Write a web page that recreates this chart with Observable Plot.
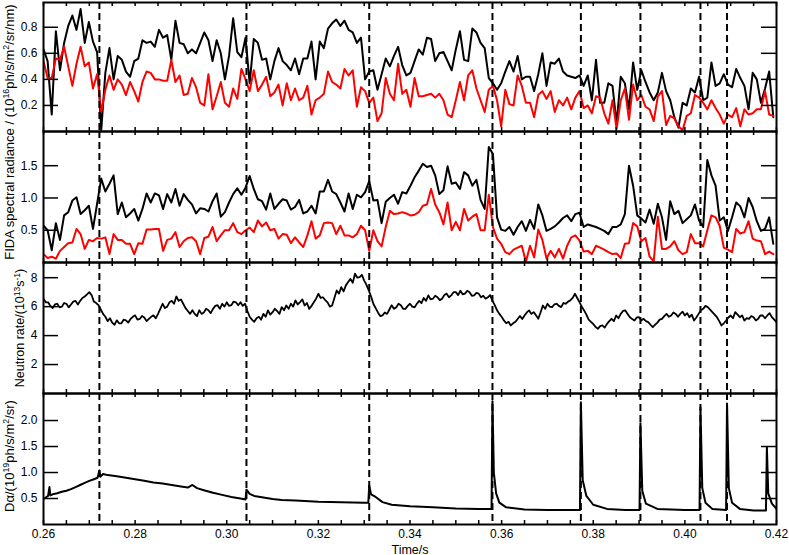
<!DOCTYPE html>
<html><head><meta charset="utf-8">
<script src="https://cdn.jsdelivr.net/npm/d3@7"></script>
<script src="https://cdn.jsdelivr.net/npm/@observablehq/plot@0.6"></script>
<style>
body{margin:0;background:#fff;font-family:"Liberation Sans",Arial,Helvetica,sans-serif;}
#wrap{position:relative;width:789px;height:555px;overflow:hidden;}
#wrap svg{display:block;}
.lab{position:absolute;white-space:nowrap;color:#000;line-height:1;}
.rot{transform:translate(-50%,-50%) rotate(-90deg);}
.hor{transform:translate(-50%,-50%);}
.lab sup{font-size:68%;vertical-align:0.5em;line-height:0;}
</style></head><body>
<div id="wrap"></div>
<script>
// ---------- data ----------
const xTicks = [0.26, 0.28, 0.30, 0.32, 0.34, 0.36, 0.38, 0.40, 0.42];
const eventTimes = [0.2722, 0.3043, 0.3311, 0.3580, 0.3773, 0.3903, 0.4034, 0.4092];

// FIDA sampled every 0.0009 s from 0.26 s
const fidaStart = 0.26, fidaStep = 0.0009;
const fidaTopBlack = [
0.63,0.54,0.13,0.77,0.47,0.68,0.81,0.89,0.78,0.94,
0.68,0.84,0.69,0.61,0.01,0.45,0.64,0.40,0.58,0.55,
0.46,0.42,0.54,0.56,0.70,0.68,0.69,0.65,0.78,0.72,
0.74,0.55,0.85,0.68,0.67,0.60,0.63,0.60,0.68,0.76,
0.70,0.54,0.70,0.60,0.40,0.58,0.87,0.61,0.57,0.72,
0.37,0.71,0.68,0.55,0.56,0.40,0.54,0.64,0.54,0.51,
0.47,0.56,0.44,0.56,0.56,0.69,0.40,0.69,0.64,0.79,
0.83,0.86,0.81,0.85,0.78,0.76,0.68,0.72,0.40,0.46,
0.47,0.32,0.44,0.56,0.50,0.58,0.65,0.51,0.43,0.45,
0.54,0.63,0.59,0.72,0.71,0.54,0.60,0.61,0.54,0.47,
0.63,0.77,0.55,0.54,0.79,0.76,0.68,0.64,0.41,0.37,
0.32,0.37,0.46,0.54,0.46,0.58,0.40,0.42,0.42,0.31,
0.44,0.60,0.35,0.53,0.52,0.56,0.46,0.43,0.42,0.41,
0.43,0.35,0.43,0.24,0.55,0.22,0.22,0.37,0.35,0.06,
0.42,0.37,0.17,0.53,0.32,0.47,0.38,0.30,0.24,0.30,
0.45,0.31,0.24,0.11,0.03,0.22,0.20,0.33,0.30,0.42,
0.24,0.26,0.53,0.35,0.37,0.44,0.36,0.34,0.48,0.41,
0.35,0.17,0.45,0.40,0.22,0.33,0.46,0.11];
const fidaTopRed = [
0.54,0.41,0.41,0.56,0.55,0.65,0.50,0.35,0.52,0.65,
0.50,0.53,0.33,0.44,0.15,0.32,0.43,0.32,0.40,0.36,
0.28,0.38,0.31,0.23,0.38,0.46,0.45,0.40,0.40,0.39,
0.39,0.55,0.38,0.43,0.28,0.29,0.41,0.34,0.22,0.20,
0.44,0.17,0.27,0.38,0.22,0.19,0.33,0.25,0.48,0.40,
0.31,0.47,0.31,0.36,0.42,0.27,0.30,0.36,0.20,0.37,
0.24,0.33,0.24,0.26,0.35,0.13,0.24,0.26,0.29,0.46,
0.38,0.36,0.33,0.48,0.43,0.47,0.19,0.34,0.31,0.22,
0.26,0.08,0.14,0.41,0.29,0.24,0.52,0.29,0.32,0.19,
0.41,0.27,0.27,0.28,0.29,0.26,0.29,0.24,0.13,0.11,
0.24,0.38,0.24,0.43,0.47,0.33,0.24,0.15,0.32,0.35,
0.24,0.04,0.32,0.21,0.20,0.43,0.35,0.22,0.22,0.11,
0.28,0.31,0.25,0.31,0.15,0.24,0.20,0.26,0.17,0.26,
0.31,0.18,0.20,0.14,0.27,0.26,0.14,0.06,0.24,0.02,
0.24,0.33,0.09,0.36,0.24,0.28,0.19,0.17,0.08,0.27,
0.31,0.05,0.12,0.10,0.04,0.01,0.12,0.14,0.28,0.26,
0.22,0.17,0.24,0.18,0.13,0.06,0.13,0.11,0.18,0.04,
0.17,0.13,0.14,0.17,0.17,0.31,0.13,0.12];
const fidaBotBlack = [
0.57,0.50,0.19,0.61,0.35,0.73,0.78,0.96,1.01,0.75,
0.81,0.88,0.52,0.91,1.30,1.10,1.22,1.35,0.75,0.93,
0.70,0.76,0.83,0.65,0.83,1.07,0.93,1.07,1.04,0.83,
1.06,0.93,1.14,0.88,1.06,0.97,0.90,0.76,0.84,0.83,
0.79,0.95,1.07,0.71,0.78,0.93,1.06,1.15,1.05,1.16,
1.34,1.14,0.98,0.95,0.82,1.07,0.83,0.91,0.98,0.96,
0.82,0.86,0.97,0.76,0.79,0.88,0.76,1.10,1.10,1.28,
1.10,1.06,0.93,0.79,1.07,0.83,1.05,1.01,1.09,1.26,
0.96,0.97,0.61,0.94,1.00,1.05,0.91,1.09,1.07,1.19,
1.32,1.42,1.53,1.48,1.50,1.35,1.06,1.12,1.49,1.22,
1.24,1.14,1.40,1.35,1.19,1.28,0.97,0.83,1.79,1.68,
0.70,0.51,0.49,0.55,0.43,0.55,0.64,0.49,0.66,0.52,
0.90,0.73,0.49,0.52,0.56,0.62,0.69,0.73,0.64,0.75,
0.77,0.55,0.59,0.57,0.55,0.52,0.49,0.44,0.55,0.55,
0.59,0.75,1.50,1.19,0.73,0.68,0.62,0.82,0.60,0.91,
0.70,0.35,0.95,0.75,0.80,0.61,0.67,0.73,0.90,0.65,
0.55,1.59,1.35,1.19,0.65,0.70,0.49,0.70,0.93,0.87,
0.70,1.00,0.86,0.64,0.49,0.52,0.70,0.29];
const fidaBotRed = [
0.13,0.07,0.09,0.06,0.18,0.24,0.30,0.31,0.52,0.44,
0.21,0.35,0.33,0.38,0.37,0.39,0.13,0.44,0.35,0.35,
0.29,0.29,0.13,0.30,0.29,0.51,0.51,0.52,0.52,0.18,
0.35,0.37,0.47,0.24,0.33,0.38,0.39,0.33,0.13,0.38,
0.40,0.55,0.33,0.42,0.50,0.50,0.61,0.47,0.44,0.50,
0.54,0.47,0.65,0.56,0.62,0.50,0.52,0.37,0.44,0.43,
0.30,0.39,0.31,0.24,0.42,0.64,0.37,0.42,0.61,0.62,
0.61,0.44,0.57,0.42,0.42,0.39,0.44,0.57,0.50,0.18,
0.50,0.33,0.25,0.55,0.80,0.75,0.76,0.78,0.76,0.73,
0.74,0.78,0.88,0.90,1.14,0.90,0.78,0.59,0.93,0.50,
0.63,0.50,0.83,0.65,0.71,0.75,0.50,0.50,1.05,0.55,
0.37,0.29,0.16,0.13,0.20,0.23,0.26,0.01,0.26,0.08,
0.51,0.35,0.06,0.18,0.08,0.21,0.06,0.26,0.39,0.42,
0.34,0.17,0.18,0.13,0.26,0.23,0.20,0.16,0.13,0.14,
0.07,0.29,0.30,0.61,0.56,0.33,0.38,0.09,0.02,0.71,
0.21,0.21,0.25,0.33,0.19,0.13,0.16,0.44,0.30,0.30,
0.25,0.50,0.73,0.70,0.57,0.23,0.20,0.16,0.52,0.45,
0.47,0.64,0.37,0.34,0.33,0.13,0.17,0.13];

// Neutron rate sampled every 0.0005 s from 0.26 s
const neutronStart = 0.26, neutronStep = 0.0005;
const neutronRate = [
6.55,6.3,6.3,6.05,5.9,6.15,6.2,5.95,6.0,6.25,
6.2,5.95,6.15,6.35,6.4,6.15,6.4,6.6,6.7,6.85,
7.0,6.8,6.35,6.25,6.1,5.8,5.5,5.3,5.0,5.2,
4.9,4.75,5.05,4.85,4.85,5.1,5.05,4.9,5.15,5.3,
5.4,5.1,5.15,5.35,5.25,5.0,5.15,5.3,5.4,5.2,
5.5,5.85,6.2,5.9,6.0,6.3,6.4,6.2,6.7,6.4,
6.5,6.2,5.9,5.7,5.5,5.75,5.5,5.35,5.75,5.5,
5.6,5.85,5.75,5.55,5.85,6.05,6.1,5.85,6.2,6.0,
6.3,6.05,6.1,6.35,6.3,6.1,6.3,6.05,6.2,5.7,
5.3,5.1,4.95,5.2,5.3,5.1,5.5,5.3,5.74,5.45,
5.62,5.85,5.7,5.5,5.97,5.75,6.08,5.85,6.2,6.0,
6.43,6.15,6.31,6.5,6.08,6.25,5.85,6.05,6.31,6.55,
6.89,6.6,6.65,6.45,6.3,6.0,6.08,6.6,7.12,6.9,
7.35,7.05,7.47,7.7,7.92,7.65,8.27,8.0,8.04,8.2,
7.8,7.5,7.12,6.7,6.2,5.9,5.6,5.35,5.4,5.6,
5.5,5.8,6.1,5.85,5.95,6.2,6.1,5.85,5.85,6.05,
6.2,6.0,5.95,6.2,6.4,6.25,6.6,6.4,6.78,6.5,
6.55,6.75,6.65,6.45,6.55,6.8,6.9,6.65,6.78,7.0,
7.0,6.8,7.1,6.85,6.9,7.1,7.0,6.75,6.78,6.95,
6.9,6.65,6.75,6.55,6.65,6.8,6.4,6.1,5.75,5.5,
5.3,5.05,4.85,4.95,4.7,4.85,4.95,5.15,5.35,5.15,
5.39,5.6,5.74,5.5,5.62,5.4,5.16,5.6,6.08,5.85,
6.2,6.0,5.97,6.15,6.2,6.05,5.97,6.25,6.2,6.35,
6.43,6.6,6.89,6.6,6.31,6.0,5.74,5.45,5.1,4.95,
4.8,4.6,4.47,4.65,4.7,4.55,4.81,5.0,5.16,5.0,
5.39,5.2,5.5,5.7,5.74,5.5,5.27,5.15,5.04,5.25,
5.27,5.05,5.16,5.0,4.93,4.75,4.58,4.75,4.9,5.1,
5.16,5.35,5.5,5.3,5.39,5.6,5.5,5.3,5.5,5.65,
5.39,5.55,5.27,5.45,5.04,5.25,5.5,5.75,5.85,6.05,
5.97,5.8,5.62,5.45,5.27,5.0,4.7,4.85,5.04,5.25,
5.39,5.2,5.62,5.45,5.27,5.4,5.04,5.2,5.15,5.35,
5.27,5.05,5.16,5.4,5.39,5.2,5.39,5.55,5.27,5.1,
4.93];

// D-alpha: time (s) and value
const dalphaTime = [
0.2600,0.2605,0.2610,0.2613,0.2615,0.2620,0.2630,0.2640,0.2650,0.2660,
0.2670,0.2680,0.2690,0.2700,0.2710,0.2718,0.2722,0.2724,0.2730,0.2740,
0.2760,0.2780,0.2800,0.2820,0.2840,0.2860,0.2880,0.2900,0.2915,0.2925,
0.2935,0.2950,0.2970,0.2990,0.3010,0.3030,0.3041,0.3043,0.3050,0.3060,
0.3080,0.3100,0.3120,0.3150,0.3200,0.3250,0.3300,0.3309,0.3311,0.3315,
0.3325,0.3340,0.3360,0.3400,0.3450,0.3500,0.3550,0.3578,0.3580,0.3583,
0.3588,0.3595,0.3610,0.3650,0.3700,0.3771,0.3773,0.3777,0.3785,0.3800,
0.3830,0.3870,0.3901,0.3903,0.3907,0.3915,0.3940,0.4000,0.4032,0.4034,
0.4038,0.4045,0.4060,0.4090,0.4092,0.4096,0.4103,0.4120,0.4150,0.4177,
0.4179,0.4182,0.4190,0.4200];
const dalphaValue = [
0.49,0.52,0.55,0.72,0.56,0.58,0.60,0.63,0.65,0.68,
0.72,0.76,0.80,0.84,0.87,0.90,1.04,0.92,0.97,0.95,
0.93,0.90,0.87,0.84,0.81,0.79,0.76,0.73,0.71,0.76,
0.70,0.66,0.61,0.57,0.53,0.50,0.48,0.67,0.59,0.55,
0.52,0.49,0.47,0.46,0.44,0.43,0.42,0.42,0.75,0.58,
0.53,0.43,0.38,0.35,0.33,0.31,0.30,0.30,2.37,1.00,
0.60,0.42,0.33,0.29,0.28,0.28,2.35,0.85,0.55,0.38,
0.30,0.28,0.28,1.95,0.65,0.40,0.30,0.28,0.28,2.25,
0.70,0.42,0.30,0.28,2.33,0.70,0.42,0.30,0.27,0.27,
1.49,0.60,0.40,0.30];

const topTicks = [0.2, 0.4, 0.6, 0.8];
const fidaTicks = [0.5, 1.0, 1.5];
const neutronTicks = [2, 4, 6, 8];
const dalphaTicks = [0.5, 1.0, 1.5, 2.0];

// ---------- build ----------
const W = 789, ML = 43, MR = 13;
const FONT = '"Liberation Sans", Arial, Helvetica, sans-serif';
const minorX = d3.range(33).map(i => +(0.26 + i * 0.005).toFixed(3));
const series = (vals, t0, dt) => vals.map((v, i) => ({t: t0 + i * dt, v}));

function panel({lines, yDomain, yTicks, yFmt, height, mt, mb, bottomAxis}) {
  const iw = W - ML - MR, ih = height - mt - mb;
  const marks = [
    ...lines,
    Plot.ruleX(eventTimes, {x: d => d, stroke: "#000", strokeWidth: 2, strokeDasharray: "7,4"}),
    Plot.tickY(yTicks, {y: d => d, insetRight: iw - 15, stroke: "#000", strokeWidth: 1.5}),
    Plot.tickY(yTicks, {y: d => d, insetLeft: iw - 15, stroke: "#000", strokeWidth: 1.5}),
    Plot.tickX(minorX, {x: d => d, insetBottom: ih - 4, stroke: "#000", strokeWidth: 1.5}),
    Plot.tickX(minorX, {x: d => d, insetTop: ih - 4, stroke: "#000", strokeWidth: 1.5}),
    Plot.axisY(yTicks, {anchor: "left", tickSize: 0, tickPadding: 6, tickFormat: yFmt, label: null, fontSize: 12}),
    Plot.frame({stroke: "#000", strokeWidth: 2})
  ];
  if (bottomAxis) marks.push(Plot.axisX(xTicks, {anchor: "bottom", tickSize: 0, tickPadding: 5, tickFormat: d3.format(".2f"), label: null, fontSize: 12}));
  return Plot.plot({
    width: W, height, marginLeft: ML, marginRight: MR, marginTop: mt, marginBottom: mb,
    x: {domain: [0.26, 0.42], axis: bottomAxis ? undefined : null},
    y: {domain: yDomain},
    style: {fontFamily: FONT, fontSize: "12px", color: "#000", overflow: "visible", background: "transparent"},
    marks
  });
}

const wrap = document.getElementById("wrap");
const f1 = d3.format(".1f");

wrap.appendChild(panel({
  lines: [
    Plot.line(series(fidaTopBlack, fidaStart, fidaStep), {x: "t", y: "v", stroke: "#000", strokeWidth: 2, clip: true}),
    Plot.line(series(fidaTopRed, fidaStart, fidaStep), {x: "t", y: "v", stroke: "#ff0000", strokeWidth: 2, clip: true})
  ],
  yDomain: [0, 0.99], yTicks: topTicks, yFmt: f1, height: 131, mt: 2, mb: 0
}));
wrap.appendChild(panel({
  lines: [
    Plot.line(series(fidaBotBlack, fidaStart, fidaStep), {x: "t", y: "v", stroke: "#000", strokeWidth: 2, clip: true}),
    Plot.line(series(fidaBotRed, fidaStart, fidaStep), {x: "t", y: "v", stroke: "#ff0000", strokeWidth: 2, clip: true})
  ],
  yDomain: [0, 2.03], yTicks: fidaTicks, yFmt: f1, height: 131, mt: 0, mb: 0
}));
wrap.appendChild(panel({
  lines: [
    Plot.line(series(neutronRate, neutronStart, neutronStep), {x: "t", y: "v", stroke: "#000", strokeWidth: 1.8, clip: true})
  ],
  yDomain: [0, 9.05], yTicks: neutronTicks, yFmt: d3.format("d"), height: 131, mt: 0, mb: 0
}));
wrap.appendChild(panel({
  lines: [
    Plot.line(dalphaTime.map((t, i) => ({t, v: dalphaValue[i]})), {x: "t", y: "v", stroke: "#000", strokeWidth: 2, clip: true})
  ],
  yDomain: [0, 2.52], yTicks: dalphaTicks, yFmt: f1, height: 162, mt: 0, mb: 31, bottomAxis: true
}));

function addLabel(html, x, y, cls, size) {
  const d = document.createElement("div");
  d.className = "lab " + cls;
  d.style.left = x + "px"; d.style.top = y + "px"; d.style.fontSize = size + "px";
  d.innerHTML = html;
  wrap.appendChild(d);
}
addLabel("FIDA spectral radiance / (10<sup>16</sup>ph/s/m<sup>2</sup>/sr/nm)", 9, 132, "rot", 13);
addLabel("Neutron rate/(10<sup>13</sup>s<sup>-1</sup>)", 20, 328, "rot", 12.5);
addLabel("D&alpha;/(10<sup>19</sup>ph/s/m<sup>2</sup>/sr)", 9, 456, "rot", 13);
addLabel("Time/s", 410, 549.5, "hor", 12.5);
</script>
</body></html>
